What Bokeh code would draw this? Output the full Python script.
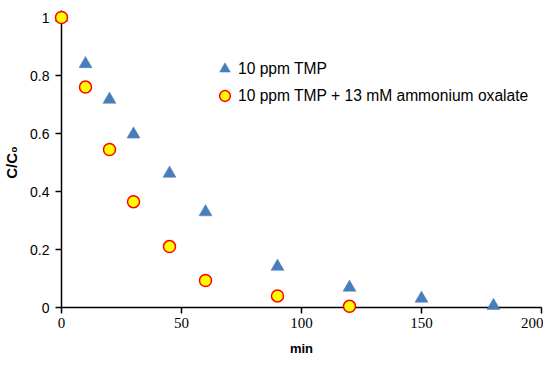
from bokeh.plotting import figure
from bokeh.models import Legend, LegendItem, FixedTicker, CustomJSTickFormatter
from bokeh.embed import file_html
from bokeh.resources import INLINE

# data
t_tmp = [0, 10, 20, 30, 45, 60, 90, 120, 150, 180]
c_tmp = [1.0, 0.84, 0.717, 0.597, 0.462, 0.329, 0.141, 0.069, 0.031, 0.006]
t_ox = [0, 10, 20, 30, 45, 60, 90, 120]
c_ox = [1.0, 0.76, 0.545, 0.365, 0.21, 0.093, 0.04, 0.004]
x_ticks = [0, 50, 100, 150, 200]
y_ticks = [0, 0.2, 0.4, 0.6, 0.8, 1]
label_tmp = "10 ppm TMP"
label_ox = "10 ppm TMP + 13 mM ammonium oxalate"

W, H = 543, 359
p = figure(width=W, height=H, output_backend="svg", toolbar_location=None,
           x_range=(0, 200), y_range=(0, 1),
           min_border_left=53, min_border_right=2,
           min_border_top=17, min_border_bottom=52)
p.outline_line_color = None
p.xgrid.visible = False
p.ygrid.visible = False
p.background_fill_color = "white"

r1 = p.scatter(t_tmp, c_tmp, marker="triangle", size=13, fill_color="#4A7EBB",
               line_color="#4A7EBB", line_width=0.5, level="overlay")
r2 = p.scatter(t_ox, c_ox, marker="circle", size=12, fill_color="#FFFF00",
               line_color="#FF0000", line_width=1.5, level="overlay")

for ax in (p.xaxis[0], p.yaxis[0]):
    ax.axis_line_color = "black"
    ax.axis_line_width = 1.5
    ax.major_tick_line_color = "black"
    ax.major_tick_line_width = 1.5
    ax.major_tick_in = 0
    ax.major_tick_out = 6
    ax.minor_tick_line_color = None
    ax.major_label_text_color = "black"
    ax.axis_label_text_color = "black"
    ax.axis_label_text_font_style = "bold"

p.xaxis.ticker = FixedTicker(ticks=x_ticks)
p.yaxis.ticker = FixedTicker(ticks=y_ticks)
p.yaxis.formatter = CustomJSTickFormatter(code="return String(tick);")
p.xaxis.formatter = CustomJSTickFormatter(code="return String(tick);")

p.xaxis.major_label_text_font = "Liberation Serif"
p.xaxis.major_label_text_font_size = "15px"
p.xaxis.major_label_standoff = 4
p.xaxis.axis_label = "min"
p.xaxis.axis_label_text_font = "Liberation Sans"
p.xaxis.axis_label_text_font_size = "13px"
p.xaxis.axis_label_standoff = 10

p.yaxis.major_label_text_font = "Liberation Sans"
p.yaxis.major_label_text_font_size = "14px"
p.yaxis.major_label_standoff = 6
p.yaxis.axis_label = "C/C₀"
p.yaxis.axis_label_text_font = "Liberation Sans"
p.yaxis.axis_label_text_font_size = "15px"
p.yaxis.axis_label_standoff = 7

legend = Legend(items=[LegendItem(label=label_tmp, renderers=[r1]),
                       LegendItem(label=label_ox, renderers=[r2])],
                location=(150, 198), orientation="vertical")
legend.background_fill_alpha = 0
legend.border_line_color = None
legend.label_text_font = "Liberation Sans"
legend.label_text_font_size = "15.6px"
legend.label_text_color = "black"
legend.glyph_width = 27
legend.glyph_height = 27
legend.label_standoff = 0
legend.spacing = 0
legend.padding = 0
legend.margin = 0
p.add_layout(legend, "center")

open("out.html", "w").write(file_html(p, INLINE))
